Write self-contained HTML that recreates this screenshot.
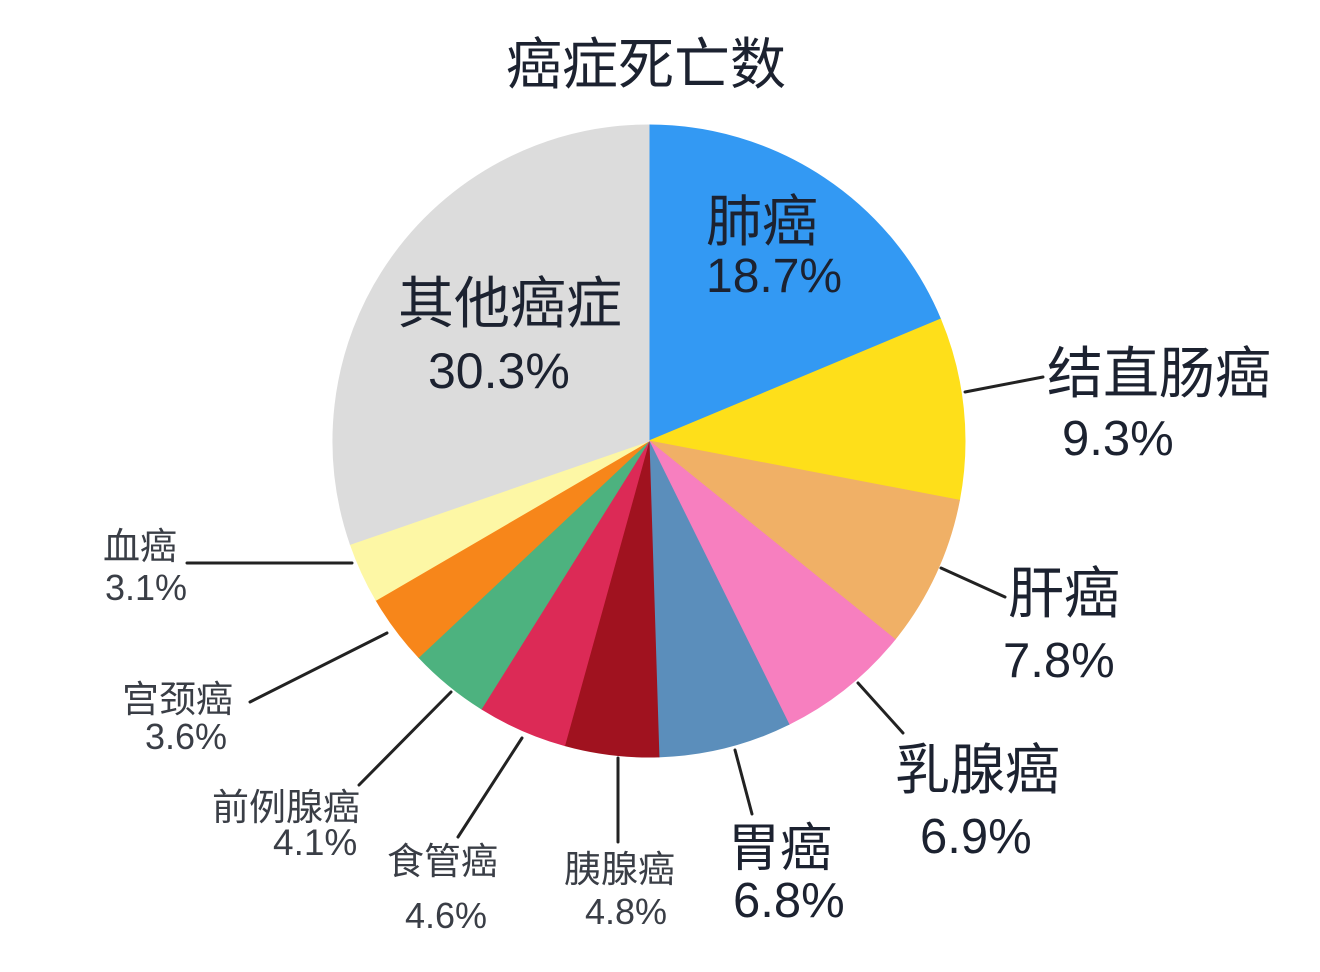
<!DOCTYPE html>
<html>
<head>
<meta charset="utf-8">
<style>
html,body{margin:0;padding:0;background:#fff;}
svg{display:block;}
text{font-family:"Liberation Sans","Noto Sans CJK SC",sans-serif;}
.big{fill:#1c2230;}
.small{fill:#3a3e46;}
</style>
</head>
<body>
<svg width="1320" height="972" viewBox="0 0 1320 972" xmlns="http://www.w3.org/2000/svg">
<rect width="1320" height="972" fill="#ffffff"/>
<text x="506" y="84" font-size="56" class="big">癌症死亡数</text>

<g stroke-width="1">
<path d="M649,441 L649,125 A316,316 0 0 1 940.55,319.16 Z" fill="#3399f3" stroke="#3399f3"/>
<path d="M649,441 L940.55,319.16 A316,316 0 0 1 959.40,500.21 Z" fill="#fedf1a" stroke="#fedf1a"/>
<path d="M649,441 L959.40,500.21 A316,316 0 0 1 894.94,639.42 Z" fill="#f0b066" stroke="#f0b066"/>
<path d="M649,441 L894.94,639.42 A316,316 0 0 1 788.92,724.34 Z" fill="#f77fbf" stroke="#f77fbf"/>
<path d="M649,441 L788.92,724.34 A316,316 0 0 1 658.93,756.85 Z" fill="#5b8ebb" stroke="#5b8ebb"/>
<path d="M649,441 L658.93,756.85 A316,316 0 0 1 564.66,745.54 Z" fill="#a0121f" stroke="#a0121f"/>
<path d="M649,441 L564.66,745.54 A316,316 0 0 1 481.36,708.86 Z" fill="#dc2a56" stroke="#dc2a56"/>
<path d="M649,441 L481.36,708.86 A316,316 0 0 1 418.65,657.32 Z" fill="#4db27f" stroke="#4db27f"/>
<path d="M649,441 L418.65,657.32 A316,316 0 0 1 376.00,600.15 Z" fill="#f7861a" stroke="#f7861a"/>
<path d="M649,441 L376.00,600.15 A316,316 0 0 1 350.35,544.28 Z" fill="#fdf7a5" stroke="#fdf7a5"/>
<path d="M649,441 L350.35,544.28 A316,316 0 0 1 649,125 Z" fill="#dcdcdc" stroke="#dcdcdc"/>
</g>

<g stroke="#222" stroke-width="3" fill="none" stroke-linecap="round">
<line x1="965" y1="392" x2="1043" y2="377"/>
<line x1="941" y1="568" x2="1005" y2="597"/>
<line x1="858" y1="683" x2="903" y2="733"/>
<line x1="735" y1="750" x2="752" y2="814"/>
<line x1="618" y1="758" x2="618" y2="842"/>
<line x1="522" y1="738" x2="458" y2="837"/>
<line x1="451" y1="692" x2="359" y2="785"/>
<line x1="387" y1="633" x2="250" y2="702"/>
<line x1="352" y1="563" x2="187" y2="563"/>
</g>

<text x="706" y="241" font-size="56" class="big">肺癌</text>
<text x="706" y="292" font-size="48" class="big">18.7%</text>

<text x="398" y="323" font-size="56" class="big">其他癌症</text>
<text x="428" y="388" font-size="50" class="big">30.3%</text>

<text x="1047" y="393" font-size="56" class="big">结直肠癌</text>
<text x="1062" y="455" font-size="49" class="big">9.3%</text>

<text x="1008" y="613" font-size="56" class="big">肝癌</text>
<text x="1003" y="677" font-size="49" class="big">7.8%</text>

<text x="895" y="789" font-size="55" class="big">乳腺癌</text>
<text x="920" y="853" font-size="49" class="big">6.9%</text>

<text x="728" y="866" font-size="52" class="big">胃癌</text>
<text x="733" y="917" font-size="49" class="big">6.8%</text>

<text x="564" y="882" font-size="37" class="small">胰腺癌</text>
<text x="585" y="924" font-size="36" class="small">4.8%</text>

<text x="387" y="874" font-size="37" class="small">食管癌</text>
<text x="405" y="928" font-size="36" class="small">4.6%</text>

<text x="212" y="820" font-size="37" class="small">前例腺癌</text>
<text x="273" y="855" font-size="37" class="small">4.1%</text>

<text x="122" y="712" font-size="37" class="small">宫颈癌</text>
<text x="145" y="749" font-size="36" class="small">3.6%</text>

<text x="103" y="559" font-size="37" class="small">血癌</text>
<text x="105" y="600" font-size="36" class="small">3.1%</text>
</svg>
</body>
</html>
